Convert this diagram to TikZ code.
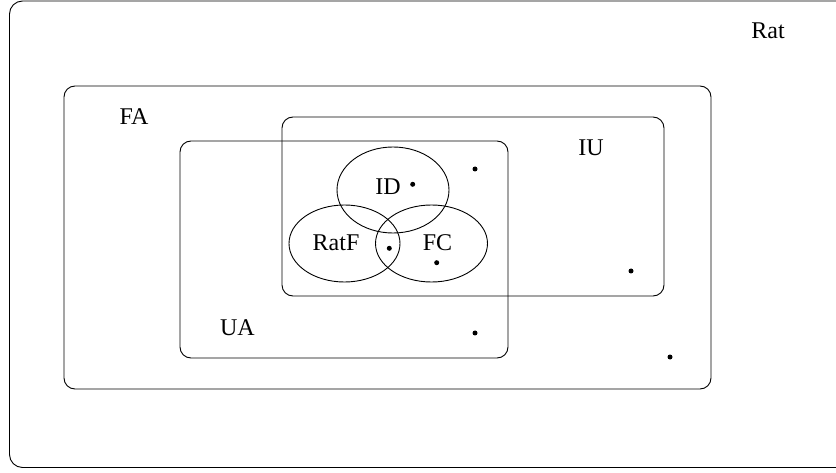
\documentclass[tikz,border=0pt]{standalone}
\usepackage{fontspec}
\setmainfont{Liberation Serif}
\begin{document}
\begin{tikzpicture}[x=1pt,y=-1pt,
  region/.style={draw=black,line width=0.9pt,rounded corners=11pt},
  venn/.style={draw=black,line width=0.9pt},
  lbl/.style={anchor=base,inner sep=0pt,font=\fontsize{24}{28}\selectfont},
  pt/.style={fill=black}]
  \clip (0,0) rectangle (836,473);
  % class boxes
  \draw[region,rounded corners=13pt] (9.5,1) rectangle (860,467.5);
  \draw[region] (64,86) rectangle (711,389);
  \draw[region] (282,117) rectangle (664,296);
  \draw[region] (180,141) rectangle (508,358);
  % overlapping ellipses
  \draw[venn] (393,190) ellipse [x radius=56, y radius=43];
  \draw[venn] (344.5,243.5) ellipse [x radius=55.5, y radius=38.5];
  \draw[venn] (431.5,243.5) ellipse [x radius=56, y radius=38.5];
  % labels
  \node[lbl] (rat)  at (768,39)    {Rat};
  \node[lbl] (fa)   at (134,125)   {FA};
  \node[lbl] (iu)   at (591,156)   {IU};
  \node[lbl] (ua)   at (237.5,336) {UA};
  \node[lbl] (id)   at (388,195)   {ID};
  \node[lbl] (ratf) at (336,251)   {RatF};
  \node[lbl] (fc)   at (437.5,251) {FC};
  % sample points
  \foreach \p in {(475,169),(412.7,184.3),(389.3,248.3),(436.7,262.7),
                  (631,271),(475,333),(670,357)}
    \fill[pt] \p circle (2.5);
\end{tikzpicture}
\end{document}
